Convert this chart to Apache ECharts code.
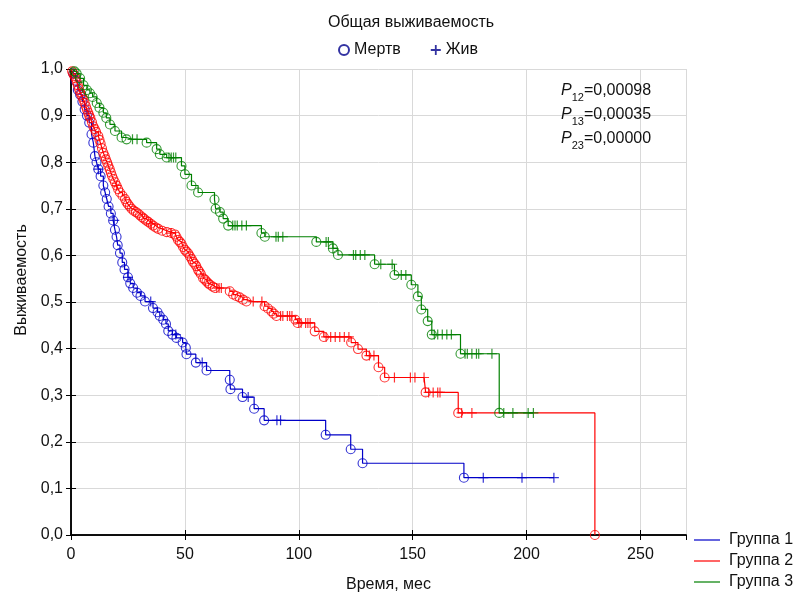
<!DOCTYPE html>
<html>
<head>
<meta charset="utf-8">
<script src="https://cdn.jsdelivr.net/npm/echarts@6/dist/echarts.min.js"></script>
<style>
  html, body { margin: 0; padding: 0; background: #fff; }
  #chart { width: 803px; height: 598px; }
</style>
</head>
<body>
<div id="chart"></div>
<script>
// Kaplan-Meier data: events = [month, survival after the death], censored = months
const group1Events = [
  [1, 0.99], [2, 0.975], [3, 0.955], [4, 0.945], [5, 0.93], [6, 0.913], [7, 0.9], [8, 0.885],
  [9, 0.86], [9.8, 0.842], [10.5, 0.813], [11.2, 0.8], [12, 0.785], [13, 0.77], [14.2, 0.75],
  [15, 0.735], [15.7, 0.721], [16.5, 0.705], [17.5, 0.69], [18.5, 0.675], [19.3, 0.655], [20, 0.64],
  [20.5, 0.622], [21.5, 0.605], [22.5, 0.585], [23.5, 0.57], [25, 0.553], [26, 0.54], [27.3, 0.53],
  [29, 0.52], [30.5, 0.513], [32.5, 0.501], [36, 0.487], [38, 0.478], [39, 0.47], [40.5, 0.462],
  [41.7, 0.453], [42.7, 0.438], [44.5, 0.43], [46.3, 0.423], [49, 0.413], [50.4, 0.402], [50.7, 0.388],
  [54.8, 0.37], [59.5, 0.353], [69.7, 0.333], [70, 0.313], [75.3, 0.296], [80.4, 0.271], [84.8, 0.246],
  [111.8, 0.215], [122.8, 0.184], [128, 0.154], [172.5, 0.123]
]
const group1Censored = [12, 19, 25, 35, 46, 57.6, 77.8, 90.4, 92, 181, 198, 212]

const group2Events = [
  [0.5, 0.995], [1, 0.99], [1.5, 0.985], [2, 0.98], [2.5, 0.972], [3, 0.965], [3.5, 0.957], [4, 0.95],
  [4.5, 0.945], [5, 0.94], [5.5, 0.934], [6, 0.927], [6.5, 0.92], [7, 0.913], [7.6, 0.906], [8, 0.9],
  [8.5, 0.895], [9.2, 0.886], [9.8, 0.877], [10.4, 0.871], [11, 0.865], [12, 0.856], [12.5, 0.848],
  [13, 0.84], [13.6, 0.83], [14.2, 0.82], [14.8, 0.813], [15.3, 0.806], [15.9, 0.799], [16.4, 0.792],
  [17, 0.785], [17.5, 0.778], [18, 0.771], [18.6, 0.764], [19.3, 0.757], [20, 0.75], [20.7, 0.742],
  [21.5, 0.735], [22.6, 0.728], [23.7, 0.721], [24.3, 0.715], [25, 0.71], [25.8, 0.705], [26.6, 0.7],
  [27.5, 0.696], [28.5, 0.693], [29.4, 0.69], [30.3, 0.686], [31.2, 0.682], [32, 0.679], [33, 0.675],
  [33.9, 0.672], [35, 0.668], [36, 0.664], [37.2, 0.66], [38.3, 0.657], [40, 0.653], [42, 0.65],
  [44, 0.648], [45.6, 0.645], [46.3, 0.64], [47, 0.633], [47.8, 0.629], [48.5, 0.625], [49.2, 0.618],
  [50, 0.612], [50.7, 0.608], [51.5, 0.604], [52.2, 0.598], [53, 0.592], [53.6, 0.586], [54.3, 0.582],
  [55, 0.577], [55.8, 0.569], [56.4, 0.565], [57, 0.56], [58, 0.551], [58.8, 0.548], [59.5, 0.544],
  [60.3, 0.54], [61, 0.537], [62.2, 0.533], [63.2, 0.53], [69.7, 0.523], [71.2, 0.516], [72.5, 0.513],
  [74, 0.51], [75.5, 0.505], [77, 0.501], [85, 0.491], [86.5, 0.486], [88, 0.48], [89, 0.475],
  [90.2, 0.47], [98.5, 0.462], [99.5, 0.455], [107, 0.437], [111, 0.425], [123, 0.413], [126, 0.399],
  [129.7, 0.385], [135, 0.36], [137.7, 0.338], [155.7, 0.306], [170, 0.262], [230, 0]
]
const group2Censored = [20, 35, 44, 64, 65, 66, 80, 83.8, 92, 93, 95, 96, 97, 100, 101, 103, 104, 105,
  112, 114, 116, 118, 120, 122, 131, 133, 142, 149, 151, 155, 157, 159, 161, 162, 171.5, 176]

const group3Events = [
  [1.5, 0.995], [2.5, 0.99], [4, 0.98], [5.5, 0.965], [7, 0.955], [8.3, 0.948], [9.5, 0.94],
  [11.3, 0.927], [12.5, 0.917], [14.2, 0.906], [15.5, 0.895], [17.1, 0.881], [19.3, 0.867],
  [22.2, 0.853], [24.4, 0.849], [33.2, 0.842], [37.6, 0.828], [39, 0.817], [42, 0.81], [48.5, 0.792],
  [50, 0.774], [52.9, 0.75], [55.8, 0.735], [63, 0.72], [63.5, 0.7], [65.4, 0.693], [66.8, 0.679],
  [69, 0.664], [83.6, 0.648], [85.1, 0.64], [107.7, 0.629], [115, 0.615], [117.2, 0.601],
  [133.3, 0.581], [142, 0.558], [149.4, 0.537], [152.3, 0.512], [153.8, 0.484], [156.6, 0.459],
  [158.4, 0.43], [171, 0.389], [188, 0.262]
]
const group3Censored = [27, 29, 43, 44, 45, 46, 71, 72, 73, 75, 77, 90, 91, 93, 112, 113, 115,
  124, 125, 127, 129, 136, 141, 145, 147, 159.5, 161, 163, 165, 167, 173, 174, 176, 178, 179,
  184.8, 190, 194, 200.7, 203]

const groupNames = ['Группа 1', 'Группа 2', 'Группа 3']
const groupColors = ['#0000c8', '#ff0000', '#008000']
const pLines = [['12', '0,00098'], ['13', '0,00035'], ['23', '0,00000']]

const crossPath = 'path://M4.4,0H5.6V10H4.4Z M0,4.4H10V5.6H0Z'
const legendCross = 'path://M4.1,0H5.9V10H4.1Z M0,4.1H10V5.9H0Z'
const font = 'Liberation Sans, Arial, sans-serif'

function survivalAt (events, t) {
  let s = 1
  events.forEach(function (e) { if (e[0] <= t) s = e[1] })
  return s
}

function buildSeries (events, censored, idx) {
  const cens = censored.map(function (t) { return [t, survivalAt(events, t)] })
  const line = [[0, 1]].concat(events, cens).sort(function (a, b) { return a[0] - b[0] })
  const color = groupColors[idx]
  return [
    {
      name: groupNames[idx],
      type: 'line',
      step: 'end',
      data: line,
      symbol: 'none',
      lineStyle: { color: color, width: 1.2 },
      itemStyle: { color: color },
      z: 2 + idx
    },
    {
      name: 'dead' + idx,
      type: 'scatter',
      data: events,
      symbol: 'circle',
      symbolSize: 9,
      itemStyle: { color: 'rgba(0,0,0,0)', borderColor: color, borderWidth: 1.1 },
      z: 2 + idx
    },
    {
      name: 'alive' + idx,
      type: 'scatter',
      data: cens,
      symbol: crossPath,
      symbolSize: 10,
      itemStyle: { color: color },
      z: 2 + idx
    }
  ]
}

const chart = echarts.init(document.getElementById('chart'))

let series = []
series = series.concat(buildSeries(group1Events, group1Censored, 0))
series = series.concat(buildSeries(group2Events, group2Censored, 1))
series = series.concat(buildSeries(group3Events, group3Censored, 2))
series.push({ name: 'Мертв', type: 'scatter', data: [], symbol: 'emptyCircle', itemStyle: { color: '#00008b', borderColor: '#00008b' } })
series.push({ name: 'Жив', type: 'scatter', data: [], symbol: legendCross, itemStyle: { color: '#00008b' } })

const pText = pLines.map(function (p) { return '{i|P}{s|' + p[0] + '}{n|=' + p[1] + '}' }).join('\n')

const option = {
  animation: false,
  backgroundColor: '#fff',
  textStyle: { fontFamily: font },
  title: {
    text: 'Общая выживаемость',
    left: 406,
    textAlign: 'center',
    top: 10,
    textStyle: { fontFamily: font, fontSize: 16, fontWeight: 'normal', color: '#111' }
  },
  legend: [
    {
      data: [{ name: 'Мертв', icon: 'emptyCircle' }, { name: 'Жив', icon: legendCross }],
      left: 333,
      top: 37,
      itemWidth: 10,
      itemHeight: 10,
      itemGap: 30,
      selectedMode: false,
      textStyle: { fontFamily: font, fontSize: 16, color: '#111' }
    },
    {
      data: groupNames,
      orient: 'vertical',
      left: 694,
      top: 532,
      padding: 0,
      itemWidth: 26,
      itemHeight: 14,
      itemGap: 5,
      icon: 'path://M0,0H30V1.4H0Z',
      selectedMode: false,
      textStyle: { fontFamily: font, fontSize: 16, color: '#111', padding: [0, 0, 0, 4] }
    }
  ],
  grid: { left: 71, right: 117, top: 69, bottom: 59 },
  xAxis: [
    {
      type: 'value',
      min: 0,
      max: 270,
      interval: 50,
      name: 'Время, мес',
      nameLocation: 'middle',
      nameGap: 42,
      nameTextStyle: { fontFamily: font, fontSize: 16, color: '#111', padding: [0, 0, 0, 20] },
      axisLine: { onZero: false, lineStyle: { color: '#000', width: 1.5 } },
      axisTick: { inside: true, length: 5, lineStyle: { color: '#000' } },
      axisLabel: { fontFamily: font, fontSize: 16, color: '#111', margin: 12, showMaxLabel: false },
      splitLine: { show: true, lineStyle: { color: '#d9d9d9', width: 1 } }
    },
    {
      type: 'value',
      position: 'top',
      min: 0,
      max: 270,
      interval: 50,
      axisLine: { lineStyle: { color: '#000', width: 1.5 } },
      axisTick: { inside: true, length: 5, lineStyle: { color: '#000' } },
      axisLabel: { show: false },
      splitLine: { show: false }
    }
  ],
  yAxis: [
    {
      type: 'value',
      min: 0,
      max: 1,
      interval: 0.1,
      name: 'Выживаемость',
      nameLocation: 'middle',
      nameGap: 30,
      nameTextStyle: { fontFamily: font, fontSize: 16, color: '#111', padding: [0, 0, 0, 44] },
      axisLine: { lineStyle: { color: '#000', width: 1.5 } },
      axisTick: { inside: true, length: 5, lineStyle: { color: '#000' } },
      axisLabel: {
        fontFamily: font,
        fontSize: 16,
        color: '#111',
        margin: 8,
        formatter: function (v) { return v.toFixed(1).replace('.', ',') }
      },
      splitLine: { show: true, lineStyle: { color: '#d9d9d9', width: 1 } }
    },
    {
      type: 'value',
      position: 'right',
      min: 0,
      max: 1,
      interval: 0.1,
      axisLine: { lineStyle: { color: '#000', width: 1.5 } },
      axisTick: { inside: true, length: 5, lineStyle: { color: '#000' } },
      axisLabel: { show: false },
      splitLine: { show: false }
    }
  ],
  graphic: [
    {
      type: 'text',
      left: 561,
      top: 79,
      z: 100,
      style: {
        text: pText,
        fill: '#111',
        font: '16px ' + font,
        lineHeight: 24,
        rich: {
          i: { fontFamily: font, fontSize: 16, fontStyle: 'italic', lineHeight: 24 },
          s: { fontFamily: font, fontSize: 11, lineHeight: 24, verticalAlign: 'bottom', padding: [7, 0, 0, 0] },
          n: { fontFamily: font, fontSize: 16, lineHeight: 24 }
        }
      }
    }
  ],
  series: series
}

chart.setOption(option)
</script>
</body>
</html>
